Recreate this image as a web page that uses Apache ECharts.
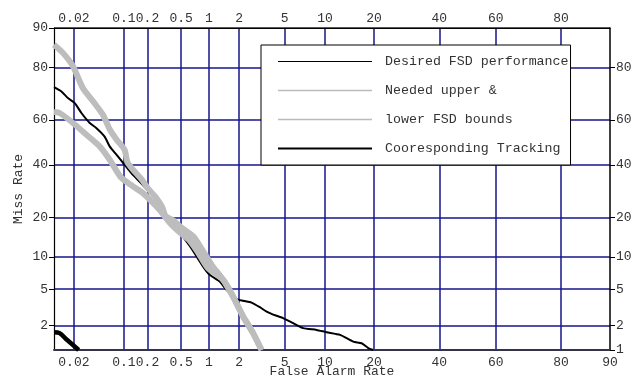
<!DOCTYPE html>
<html>
<head>
<meta charset="utf-8">
<script src="https://cdn.jsdelivr.net/npm/echarts@6/dist/echarts.min.js"></script>
<style>
  html, body { margin: 0; padding: 0; background: #fff; }
  #main { width: 638px; height: 377px; }
</style>
</head>
<body>
<div id="main"></div>
<script>
// axis ranges and tick labels, in percent
const xRange = [0.01, 90]
const yRange = [1, 90]
const xGridTicks = [0.02, 0.1, 0.2, 0.5, 1, 2, 5, 10, 20, 40, 60, 80]
const xBottomLabels = [0.02, 0.1, 0.2, 0.5, 1, 2, 5, 10, 20, 40, 60, 80, 90]
const xTopLabels = [0.02, 0.1, 0.2, 0.5, 1, 2, 5, 10, 20, 40, 60, 80]
const yLeftLabels = [2, 5, 10, 20, 40, 60, 80, 90]
const yRightLabels = [1, 2, 5, 10, 20, 40, 60, 80]

// curves: false alarm rate (%) / miss rate (%)
const desiredFar = [0.01, 0.013, 0.0163, 0.0206, 0.0258, 0.034, 0.042, 0.055, 0.0645, 0.0796, 0.102, 0.125, 0.16, 0.21, 0.27, 0.32, 0.43, 0.625, 0.87, 1.02, 1.29, 1.51, 1.89, 2.18, 2.60, 3.09, 3.54, 4.29, 4.86, 5.84, 6.97, 8.73, 10.25, 12.6, 15.2, 17.05, 18.6, 19.8]
const desiredMiss = [73.2, 71.6, 69.0, 67.0, 62.9, 58.6, 56.4, 52.6, 48.2, 44.5, 40.1, 36.5, 32.9, 29.0, 25.6, 21.8, 17.2, 12.3, 8.2, 6.9, 5.95, 4.92, 3.95, 3.79, 3.63, 3.24, 2.90, 2.60, 2.45, 2.14, 1.87, 1.78, 1.67, 1.55, 1.28, 1.22, 1.06, 1.0]

const upperFar = [0.01, 0.0137, 0.0194, 0.027, 0.038, 0.052, 0.065, 0.080, 0.102, 0.112, 0.142, 0.17, 0.20, 0.25, 0.30, 0.33, 0.41, 0.51, 0.69, 0.84, 1.07, 1.40, 1.75, 2.18, 2.69, 3.2]
const upperMiss = [86.3, 84.2, 80.3, 72.9, 67.7, 62.2, 55.6, 51.2, 46.7, 41.0, 36.7, 33.8, 30.5, 27.1, 23.6, 20.5, 19.0, 16.9, 14.5, 11.65, 8.5, 6.18, 4.2, 2.55, 1.63, 1.0]

const lowerFar = [0.01, 0.0122, 0.0194, 0.0305, 0.047, 0.0645, 0.091, 0.131, 0.176, 0.234, 0.28, 0.32, 0.37, 0.46, 0.61, 0.76, 0.97, 1.40, 1.75, 2.18, 2.69, 3.2]
const lowerMiss = [63.3, 62.9, 58.6, 53.4, 48.2, 42.3, 34.8, 31.1, 28.5, 24.9, 22.5, 20.5, 18.4, 16.1, 13.75, 11.0, 8.0, 6.18, 4.2, 2.55, 1.63, 1.0]

const trackFar = [0.01, 0.0122, 0.0154, 0.0194, 0.0235]
const trackMiss = [1.67, 1.63, 1.37, 1.16, 1.0]

const seriesNames = ['Desired FSD performance', 'Needed upper &', 'lower FSD bounds', 'Cooresponding Tracking']

// normal deviate scale (inverse normal cdf, Acklam)
function probit(pct) {
  const p = pct / 100
  const a = [-39.69683028665376, 220.9460984245205, -275.9285104469687, 138.3577518672690, -30.66479806614716, 2.506628277459239]
  const b = [-54.47609879822406, 161.5858368580409, -155.6989798598866, 66.80131188771972, -13.28068155288572]
  const c = [-0.007784894002430293, -0.3223964580411365, -2.400758277161838, -2.549732539343734, 4.374664141464968, 2.938163982698783]
  const d = [0.007784695709041462, 0.3224671290700398, 2.445134137142996, 3.754408661907416]
  const pl = 0.02425
  let q, r
  if (p < pl) {
    q = Math.sqrt(-2 * Math.log(p))
    return (((((c[0] * q + c[1]) * q + c[2]) * q + c[3]) * q + c[4]) * q + c[5]) / ((((d[0] * q + d[1]) * q + d[2]) * q + d[3]) * q + 1)
  }
  if (p <= 1 - pl) {
    q = p - 0.5; r = q * q
    return (((((a[0] * r + a[1]) * r + a[2]) * r + a[3]) * r + a[4]) * r + a[5]) * q / (((((b[0] * r + b[1]) * r + b[2]) * r + b[3]) * r + b[4]) * r + 1)
  }
  q = Math.sqrt(-2 * Math.log(1 - p))
  return -(((((c[0] * q + c[1]) * q + c[2]) * q + c[3]) * q + c[4]) * q + c[5]) / ((((d[0] * q + d[1]) * q + d[2]) * q + d[3]) * q + 1)
}

const toPairs = (xs, ys) => xs.map((x, i) => [probit(x), probit(ys[i])])
const labelOf = list => v => {
  let best = list[0]
  list.forEach(p => { if (Math.abs(probit(p) - v) < Math.abs(probit(best) - v)) best = p })
  return String(best)
}

const font = 'Liberation Mono'
const labelStyle = { fontFamily: font, fontSize: 13, color: '#333' }
const gridColor = '#16168c'
const noSymbol = { opacity: 0 }

var myChart = echarts.init(document.getElementById('main'))
var option = {
  animation: false,
  backgroundColor: '#fff',
  grid: { left: 54, right: 28, top: 28, bottom: 27, outerBoundsMode: 'none', containLabel: false },
  legend: {
    orient: 'vertical',
    left: 261,
    top: 45,
    padding: [10, 2, 10, 16],
    itemWidth: 94,
    itemHeight: 14,
    itemGap: 16,
    borderColor: '#000',
    borderWidth: 1,
    borderRadius: 0,
    backgroundColor: '#fff',
    selectedMode: false,
    textStyle: { fontFamily: font, fontSize: 13.3, color: '#333', padding: [0, 0, 0, 8] },
    data: [
      { name: seriesNames[0], itemStyle: noSymbol, lineStyle: { width: 1, color: '#000' } },
      { name: seriesNames[1], itemStyle: noSymbol, lineStyle: { width: 1.5, color: '#bbb' } },
      { name: seriesNames[2], itemStyle: noSymbol, lineStyle: { width: 1.5, color: '#bbb' } },
      { name: seriesNames[3], itemStyle: noSymbol, lineStyle: { width: 2, color: '#000' } }
    ]
  },
  xAxis: [
    {
      type: 'value', position: 'bottom',
      min: probit(xRange[0]), max: probit(xRange[1]),
      name: 'False Alarm Rate', nameLocation: 'middle', nameGap: 15, nameMoveOverlap: false,
      nameTextStyle: labelStyle,
      axisLine: { show: true, onZero: false, lineStyle: { color: '#33334a', width: 2 } },
      axisTick: { show: false, customValues: xGridTicks.map(probit) },
      axisLabel: { customValues: xBottomLabels.map(probit), formatter: labelOf(xBottomLabels), margin: 6, hideOverlap: false, ...labelStyle },
      splitLine: { show: true, lineStyle: { color: gridColor, width: 1.5 } }
    },
    {
      type: 'value', position: 'top',
      min: probit(xRange[0]), max: probit(xRange[1]),
      axisLine: { show: true, onZero: false, lineStyle: { color: '#000', width: 1 } },
      axisTick: { show: false, customValues: xTopLabels.map(probit) },
      axisLabel: { customValues: xTopLabels.map(probit), formatter: labelOf(xTopLabels), margin: 3, hideOverlap: false, ...labelStyle },
      splitLine: { show: false }
    }
  ],
  yAxis: [
    {
      type: 'value', position: 'left',
      min: probit(yRange[0]), max: probit(yRange[1]),
      name: 'Miss Rate', nameLocation: 'middle', nameGap: 29, nameRotate: 90, nameMoveOverlap: false,
      nameTextStyle: labelStyle,
      axisLine: { show: true, onZero: false, lineStyle: { color: '#000', width: 1.2 } },
      axisTick: { show: true, length: 5, lineStyle: { color: '#000' }, customValues: yLeftLabels.map(probit) },
      axisLabel: { customValues: yLeftLabels.map(probit), formatter: labelOf(yLeftLabels), margin: 6, hideOverlap: false, ...labelStyle },
      splitLine: { show: true, lineStyle: { color: gridColor, width: 1.5 } }
    },
    {
      type: 'value', position: 'right',
      min: probit(yRange[0]), max: probit(yRange[1]),
      axisLine: { show: true, onZero: false, lineStyle: { color: '#000', width: 1.5 } },
      axisTick: { show: true, length: 5, lineStyle: { color: '#000' }, customValues: yRightLabels.map(probit) },
      axisLabel: { customValues: yRightLabels.map(probit), formatter: labelOf(yRightLabels), margin: 6, hideOverlap: false, ...labelStyle },
      splitLine: { show: false }
    }
  ],
  series: [
    {
      name: seriesNames[0], type: 'line', z: 2, symbol: 'none', smooth: 0.2,
      data: toPairs(desiredFar, desiredMiss),
      lineStyle: { color: '#000', width: 2 }, itemStyle: { color: '#000' }
    },
    {
      name: seriesNames[1], type: 'line', z: 3, symbol: 'none', smooth: 0.2,
      data: toPairs(upperFar, upperMiss),
      lineStyle: { color: '#bdbdbd', width: 6 }, itemStyle: { color: '#bdbdbd' }
    },
    {
      name: seriesNames[2], type: 'line', z: 3, symbol: 'none', smooth: 0.2,
      data: toPairs(lowerFar, lowerMiss),
      lineStyle: { color: '#bdbdbd', width: 6 }, itemStyle: { color: '#bdbdbd' }
    },
    {
      name: seriesNames[3], type: 'line', z: 2, symbol: 'none', smooth: 0.3,
      data: toPairs(trackFar, trackMiss),
      lineStyle: { color: '#000', width: 4.5 }, itemStyle: { color: '#000' }
    }
  ]
}
myChart.setOption(option)
</script>
</body>
</html>
